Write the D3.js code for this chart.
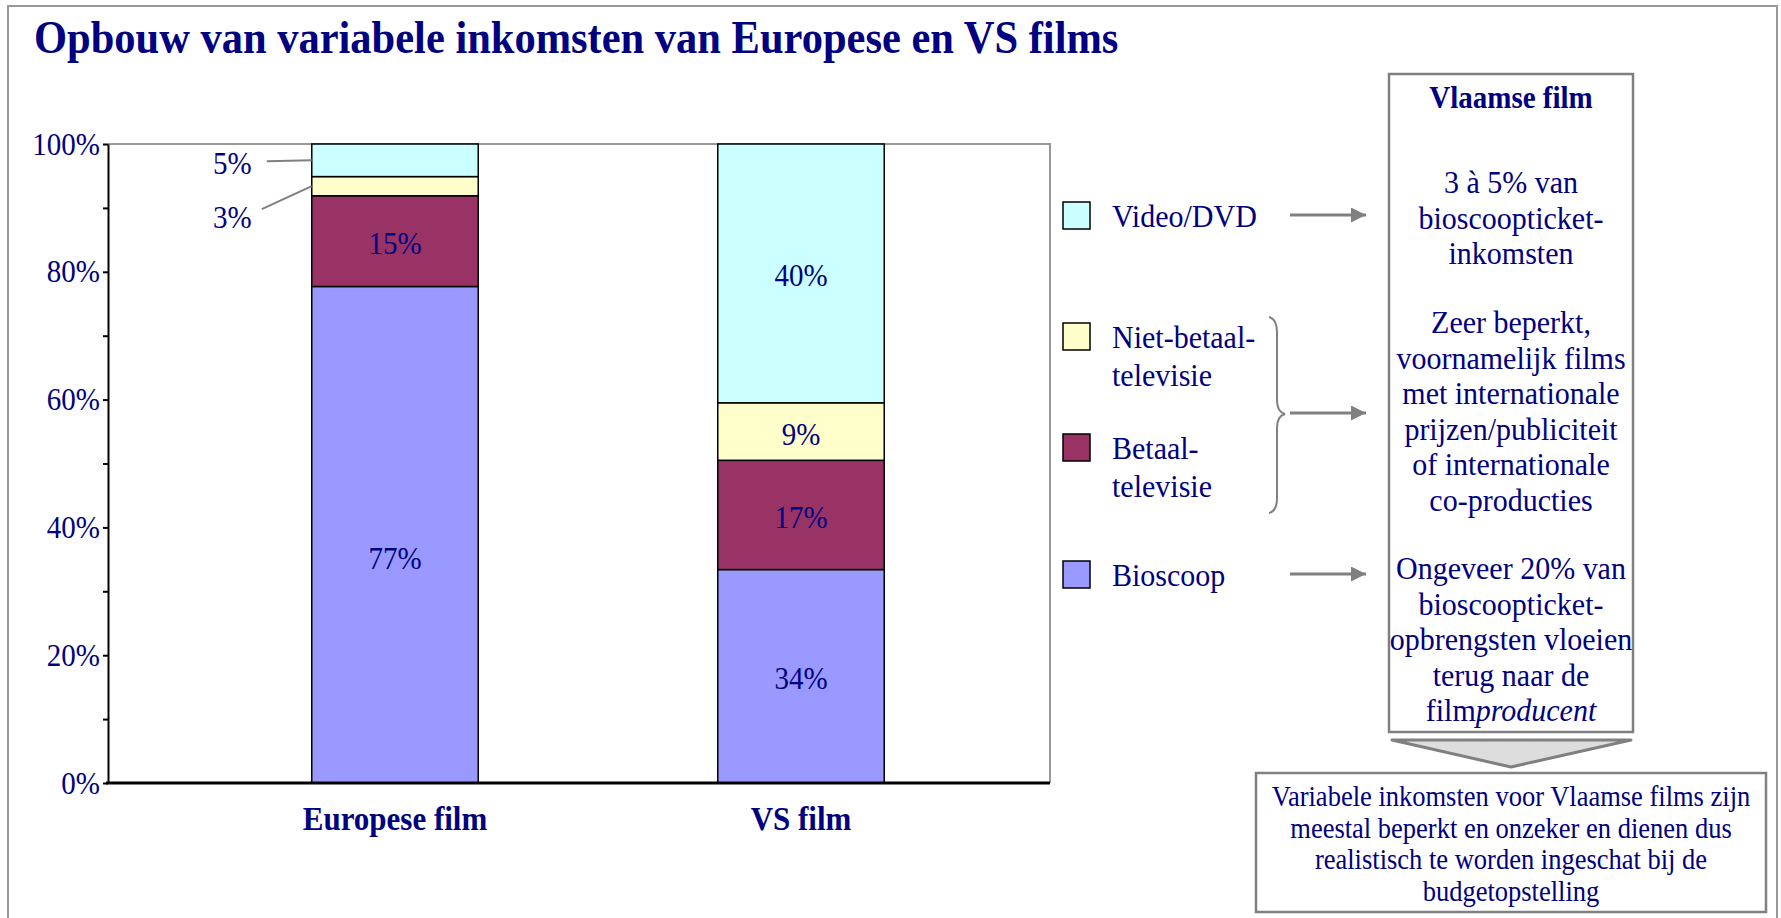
<!DOCTYPE html>
<html>
<head>
<meta charset="utf-8">
<script src="https://cdnjs.cloudflare.com/ajax/libs/d3/7.8.5/d3.min.js"></script>
<style>
  body { margin: 0; background: #fff; }
  text { font-family: "Liberation Serif", "Times New Roman", serif; fill: #000080; }
</style>
</head>
<body>
<div id="chart"></div>
<script>
(function() {

  // data (percent of variable income)
  var categories = ['Europese film', 'VS film'];
  var series = ['Bioscoop', 'Betaal-televisie', 'Niet-betaal-televisie', 'Video/DVD'];
  var bioscoop = [77.7, 33.4],
      betaalTv = [14.2, 17.1],
      nietBetaalTv = [3.0, 9.0],
      videoDvd = [5.1, 40.5];
  var bioscoopLabels = ['77%', '34%'],
      betaalLabels = ['15%', '17%'],
      nietBetaalLabels = ['3%', '9%'],
      videoLabels = ['5%', '40%'];
  var colors = ['#9999FF', '#993366', '#FFFFCC', '#CCFFFF'];
  var legendNames = [['Bioscoop'], ['Betaal-', 'televisie'], ['Niet-betaal-', 'televisie'], ['Video/DVD']];
  var yTicks = [0, 10, 20, 30, 40, 50, 60, 70, 80, 90, 100];

  var boxTitle = 'Vlaamse film';
  var boxLines = [
    ['3 à 5% van', 'bioscoopticket-', 'inkomsten'],
    ['Zeer beperkt,', 'voornamelijk films', 'met internationale', 'prijzen/publiciteit', 'of internationale', 'co-producties'],
    ['Ongeveer 20% van', 'bioscoopticket-', 'opbrengsten vloeien', 'terug naar de', 'film|producent']
  ];
  var noteLines = ['Variabele inkomsten voor Vlaamse films zijn', 'meestal beperkt en onzeker en dienen dus',
                   'realistisch te worden ingeschat bij de', 'budgetopstelling'];

  var values = [bioscoop, betaalTv, nietBetaalTv, videoDvd],
      labels = [bioscoopLabels, betaalLabels, nietBetaalLabels, videoLabels];

  var rows = categories.map(function(c, i) {
    var r = { cat: c, i: i };
    series.forEach(function(s, k) { r[s] = values[k][i]; });
    return r;
  });

  var W = 1781, H = 918, navy = '#000080', grey = '#808080',
      stretch = 1.08; // the original type is slightly tall

  var svg = d3.select('#chart').append('svg')
    .attr('width', W).attr('height', H);

  // text placed at (x, y) and stretched a bit vertically
  function label(x, y, size) {
    return svg.append('text')
      .attr('transform', 'translate(' + x + ',' + y + ') scale(1,' + stretch + ')')
      .style('font-size', size + 'px');
  }

  // outer frame
  svg.append('rect')
    .attr('x', 8).attr('y', 6).attr('width', 1769).attr('height', 940)
    .attr('fill', 'none').attr('stroke', '#999').attr('stroke-width', 2);

  label(34, 53, 42.5).style('font-weight', 'bold')
    .text('Opbouw van variabele inkomsten van Europese en VS films');

  var y = d3.scaleLinear().domain([0, 100]).range([783, 144]);
  var x = d3.scaleBand().domain(categories).range([192, 1004])
    .paddingInner(0.59).paddingOuter(0.295);

  // plot frame (top + right)
  svg.append('path')
    .attr('d', 'M108,' + y(100) + 'H1050V' + y(0))
    .attr('fill', 'none').attr('stroke', '#999').attr('stroke-width', 2);

  var stack = d3.stack().keys(series)(rows);

  var layers = svg.selectAll('g.layer').data(stack).enter()
    .append('g').attr('class', 'layer')
    .attr('fill', function(d, k) { return colors[k]; });

  layers.selectAll('rect').data(function(d) { return d; }).enter()
    .append('rect')
    .attr('x', function(d) { return x(d.data.cat); })
    .attr('y', function(d) { return y(d[1]); })
    .attr('width', x.bandwidth())
    .attr('height', function(d) { return y(d[0]) - y(d[1]); })
    .attr('stroke', '#000').attr('stroke-width', 1.5);

  // value labels; thin segments get a callout on the left
  var calloutDy = { 'Video/DVD': 4, 'Niet-betaal-televisie': 32 };
  var nudge = { 'Europese film|Bioscoop': 24 };
  stack.forEach(function(layer, k) {
    layer.forEach(function(d, i) {
      var mid = (y(d[0]) + y(d[1])) / 2,
          left = x(d.data.cat);
      if (d[1] - d[0] < 6) {
        var ty = mid + calloutDy[layer.key];
        svg.append('line')
          .attr('x1', left - 50 + (k === 3 ? 5 : 0)).attr('y1', ty - (k === 3 ? 3 : 9))
          .attr('x2', left).attr('y2', mid)
          .attr('stroke', grey).attr('stroke-width', 2);
        label(left - 60, ty + 10, 29)
          .attr('text-anchor', 'end')
          .text(labels[k][i]);
      } else {
        var extra = nudge[d.data.cat + '|' + layer.key] || 3;
        label(left + x.bandwidth() / 2, mid + 10 + extra, 29)
          .attr('text-anchor', 'middle')
          .text(labels[k][i]);
      }
    });
  });

  // y axis
  var yAxis = svg.append('g')
    .attr('transform', 'translate(108,0)')
    .call(d3.axisLeft(y).tickValues(yTicks).tickSize(5).tickSizeOuter(0)
      .tickFormat(function(d) { return d % 20 === 0 ? d + '%' : ''; }));
  yAxis.select('.domain').attr('stroke', '#000').attr('stroke-width', 2);
  yAxis.selectAll('.tick line').attr('stroke', '#000').attr('stroke-width', 2);
  yAxis.selectAll('.tick text')
    .style('font-size', '29px').style('font-family', '"Liberation Serif", "Times New Roman", serif')
    .attr('fill', navy)
    .attr('transform', 'scale(1,' + stretch + ')');

  // x axis baseline
  svg.append('line')
    .attr('x1', 106).attr('x2', 1050).attr('y1', y(0)).attr('y2', y(0))
    .attr('stroke', '#000').attr('stroke-width', 3);

  categories.forEach(function(c) {
    label(x(c) + x.bandwidth() / 2, 830, 31)
      .attr('text-anchor', 'middle').style('font-weight', 'bold')
      .text(c);
  });

  // legend (top entry first)
  var legendTop = [561, 434, 323, 202];
  series.forEach(function(s, k) {
    var top = legendTop[k];
    svg.append('rect')
      .attr('x', 1063).attr('y', top).attr('width', 27).attr('height', 27)
      .attr('fill', colors[k]).attr('stroke', '#000').attr('stroke-width', 1.5);
    legendNames[k].forEach(function(line, j) {
      label(1112, top + 25 + j * 38, 30).text(line);
    });
  });

  // brace grouping the two television entries
  svg.append('path')
    .attr('d', 'M1269,317 Q1277,319 1277,332 V400 Q1277,412 1285,414 Q1277,416 1277,428 V498 Q1277,511 1269,513')
    .attr('fill', 'none').attr('stroke', grey).attr('stroke-width', 2);

  // arrows to the Flemish box
  svg.append('defs').append('marker')
    .attr('id', 'head').attr('viewBox', '0 0 10 10')
    .attr('refX', 10).attr('refY', 5)
    .attr('markerWidth', 5).attr('markerHeight', 5)
    .attr('orient', 'auto').attr('markerUnits', 'strokeWidth')
    .append('path').attr('d', 'M0,0L10,5L0,10Z').attr('fill', grey);

  [215, 413, 574].forEach(function(ay) {
    svg.append('line')
      .attr('x1', 1290).attr('x2', 1366).attr('y1', ay).attr('y2', ay)
      .attr('stroke', grey).attr('stroke-width', 3)
      .attr('marker-end', 'url(#head)');
  });

  // Flemish box
  var bx = 1511;
  svg.append('rect')
    .attr('x', 1389).attr('y', 74).attr('width', 244).attr('height', 658)
    .attr('fill', '#fff').attr('stroke', grey).attr('stroke-width', 2.5);
  label(bx, 108, 29).attr('text-anchor', 'middle').style('font-weight', 'bold')
    .text(boxTitle);

  var groupTop = [193, 333, 579];
  boxLines.forEach(function(group, g) {
    group.forEach(function(line, j) {
      var t = label(bx, groupTop[g] + j * 35.5, 30).attr('text-anchor', 'middle');
      var parts = line.split('|');
      t.append('tspan').text(parts[0]);
      if (parts[1]) t.append('tspan').style('font-style', 'italic').text(parts[1]);
    });
  });

  // chevron pointing to the note
  svg.append('path')
    .attr('d', 'M1392,740 H1631 L1511,767 Z')
    .attr('fill', '#ddd').attr('stroke', grey).attr('stroke-width', 3)
    .attr('stroke-linejoin', 'round');

  // conclusion note
  svg.append('rect')
    .attr('x', 1256).attr('y', 773).attr('width', 510).attr('height', 139)
    .attr('fill', '#fff').attr('stroke', grey).attr('stroke-width', 2.5);
  noteLines.forEach(function(line, j) {
    label(1511, 806 + j * 31.7, 26.5).attr('text-anchor', 'middle').text(line);
  });

})();
</script>
</body>
</html>
